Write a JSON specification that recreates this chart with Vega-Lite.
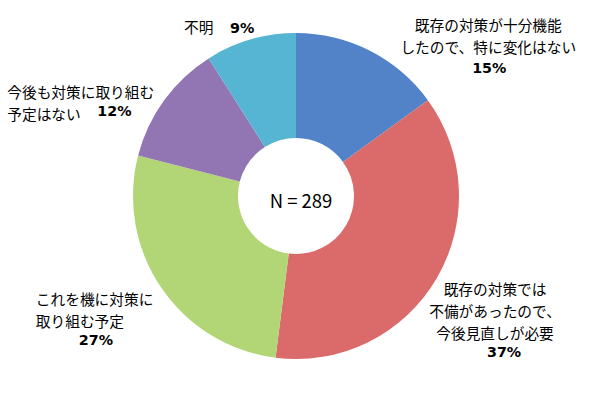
{
  "$schema": "https://vega.github.io/schema/vega-lite/v6.json",
  "autosize": {"type": "fit", "contains": "padding"},
  "width": 590,
  "height": 400,
  "padding": {"left": 2, "top": 0, "right": 0, "bottom": 8},
  "background": "white",
  "config": {"view": {"stroke": null}},
  "data": {
    "values": [
      {"k": "A", "name": "既存の対策が十分機能\nしたので、特に変化はない", "value": 15, "pct": "15%", "o": 1},
      {"k": "B", "name": "既存の対策では\n不備があったので、\n今後見直しが必要", "value": 37, "pct": "37%", "o": 2},
      {"k": "C", "name": "これを機に対策に\n取り組む予定", "value": 27, "pct": "27%", "o": 3},
      {"k": "D", "name": "今後も対策に取り組む\n予定はない", "value": 12, "pct": "12%", "o": 4},
      {"k": "E", "name": "不明", "value": 9, "pct": "9%", "o": 5}
    ]
  },
  "layer": [
    {
      "mark": {"type": "arc", "outerRadius": 163, "innerRadius": 58},
      "encoding": {
        "theta": {"field": "value", "type": "quantitative", "stack": true},
        "order": {"field": "o", "type": "quantitative"},
        "color": {
          "field": "k", "type": "nominal", "legend": null,
          "scale": {"domain": ["A", "B", "C", "D", "E"], "range": ["#5283C8", "#DB6B6A", "#B2D576", "#9276B4", "#57B5D4"]}
        }
      }
    },
    {
      "mark": {
        "type": "text", "radius": 190, "lineBreak": "\n", "lineHeight": 22,
        "font": "Noto Sans CJK JP", "fontSize": 14.7, "color": "#000000", "baseline": "middle",
        "align": {"expr": "datum.k == 'A' || datum.k == 'B' ? 'center' : 'left'"},
        "dx": {"expr": "datum.k == 'A' ? 106 : datum.k == 'B' ? 35.5 : datum.k == 'C' ? -103 : datum.k == 'D' ? -135 : -59"},
        "dy": {"expr": "datum.k == 'A' ? 0 : datum.k == 'B' ? -2 : datum.k == 'C' ? -2 : datum.k == 'D' ? 10 : 15.5"}
      },
      "encoding": {
        "theta": {"field": "value", "type": "quantitative", "stack": true},
        "order": {"field": "o", "type": "quantitative"},
        "text": {"field": "name", "type": "nominal"}
      }
    },
    {
      "mark": {
        "type": "text", "radius": 190,
        "font": "DejaVu Sans", "fontWeight": "bold", "fontSize": 14.3, "color": "#000000", "baseline": "middle",
        "align": {"expr": "datum.k == 'D' || datum.k == 'E' ? 'left' : 'center'"},
        "dx": {"expr": "datum.k == 'A' ? 107 : datum.k == 'B' ? 44.5 : datum.k == 'C' ? -43 : datum.k == 'D' ? -45 : -13"},
        "dy": {"expr": "datum.k == 'A' ? 42 : datum.k == 'B' ? 60 : datum.k == 'C' ? 38 : datum.k == 'D' ? 28 : 15.5"}
      },
      "encoding": {
        "theta": {"field": "value", "type": "quantitative", "stack": true},
        "order": {"field": "o", "type": "quantitative"},
        "text": {"field": "pct", "type": "nominal"}
      }
    },
    {
      "data": {"values": [{"t": "N = 289"}]},
      "mark": {"type": "text", "font": "Noto Sans CJK JP", "fontSize": 18.5, "color": "#000000", "baseline": "middle", "align": "center", "dx": 5, "dy": 5.5},
      "encoding": {"text": {"field": "t", "type": "nominal"}}
    }
  ]
}
